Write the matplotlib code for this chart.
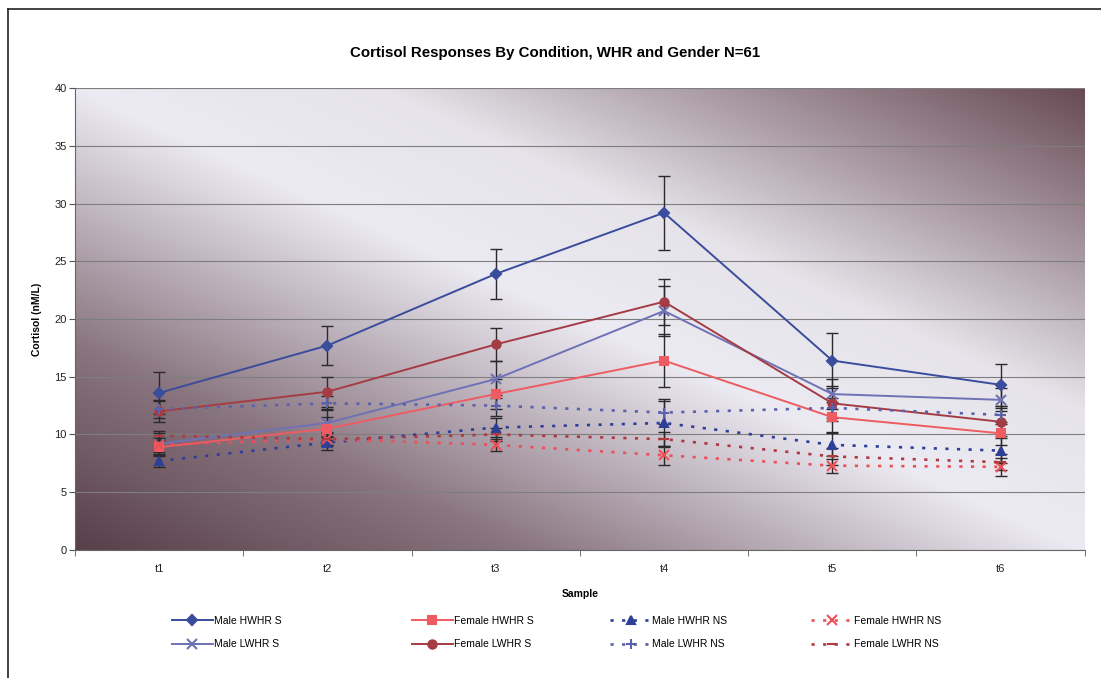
import numpy as np
import matplotlib
matplotlib.use("Agg")
import matplotlib.pyplot as plt
from matplotlib.lines import Line2D

plt.rcParams['font.family'] = ['Liberation Sans', 'DejaVu Sans']

# sample points and group means / standard errors (nM/L)
samples = ['t1', 't2', 't3', 't4', 't5', 't6']

male_hwhr_s = [13.6, 17.7, 23.9, 29.2, 16.4, 14.3]
male_hwhr_s_err = [1.8, 1.7, 2.2, 3.2, 2.4, 1.8]
male_lwhr_s = [9.2, 11.0, 14.8, 20.7, 13.5, 13.0]
male_lwhr_s_err = [0.9, 1.2, 1.6, 2.2, 1.3, 1.0]
female_hwhr_s = [8.9, 10.5, 13.5, 16.4, 11.5, 10.1]
female_hwhr_s_err = [0.8, 1.0, 1.3, 2.3, 1.3, 1.0]
female_lwhr_s = [12.0, 13.7, 17.8, 21.5, 12.7, 11.1]
female_lwhr_s_err = [0.9, 1.3, 1.4, 2.0, 1.5, 1.2]
male_hwhr_ns = [7.7, 9.3, 10.6, 11.0, 9.1, 8.6]
male_hwhr_ns_err = [0.5, 0.6, 0.8, 2.1, 1.0, 1.1]
male_lwhr_ns = [12.2, 12.7, 12.5, 11.9, 12.3, 11.7]
male_lwhr_ns_err = [0.8, 0.6, 0.9, 1.0, 0.9, 0.8]
female_hwhr_ns = [9.1, 9.6, 9.1, 8.2, 7.3, 7.2]
female_hwhr_ns_err = [0.6, 0.6, 0.5, 0.8, 0.6, 0.8]
female_lwhr_ns = [9.9, 9.6, 10.0, 9.6, 8.1, 7.6]
female_lwhr_ns_err = [0.4, 0.5, 0.6, 0.6, 0.7, 0.7]

DOT = (0, (1.2, 3.2))

# label, values, errors, color, marker, linestyle
series = [
    ('Male HWHR S', male_hwhr_s, male_hwhr_s_err, '#3a4c9c', 'D', '-'),
    ('Male LWHR S', male_lwhr_s, male_lwhr_s_err, '#6e72b4', 'x', '-'),
    ('Female HWHR S', female_hwhr_s, female_hwhr_s_err, '#ee5c62', 's', '-'),
    ('Female LWHR S', female_lwhr_s, female_lwhr_s_err, '#a53c44', 'o', '-'),
    ('Male HWHR NS', male_hwhr_ns, male_hwhr_ns_err, '#2e3f98', '^', DOT),
    ('Male LWHR NS', male_lwhr_ns, male_lwhr_ns_err, '#5a62ac', '+', DOT),
    ('Female HWHR NS', female_hwhr_ns, female_hwhr_ns_err, '#ec5058', 'x', DOT),
    ('Female LWHR NS', female_lwhr_ns, female_lwhr_ns_err, '#b03840', '_', DOT),
]

fig = plt.figure(figsize=(11.01, 6.78), dpi=100)
ax = fig.add_axes([0.068, 0.1888, 0.9173, 0.6814])

# diagonal two-tone fill of the plot area: dark lower-left and upper-right corners
gx, gy = np.meshgrid(np.linspace(0, 1, 400), np.linspace(1, 0, 300))
d = gx + gy
stops = [0.0, 0.45, 0.75, 1.0, 1.3, 1.6, 2.0]
rgb = np.array([
    [0x58, 0x40, 0x4a],
    [0x8a, 0x76, 0x80],
    [0xc0, 0xb6, 0xc0],
    [0xec, 0xea, 0xf2],
    [0xe6, 0xe4, 0xea],
    [0xae, 0xa0, 0xa8],
    [0x68, 0x4a, 0x54],
]) / 255.0
img = np.stack([np.interp(d, stops, rgb[:, c]) for c in range(3)], axis=-1)
ax.imshow(img, extent=[0, 1, 0, 1], transform=ax.transAxes, aspect='auto',
          zorder=0, interpolation='bilinear')

x = np.arange(len(samples))
for label, vals, errs, col, mk, ls in series:
    ax.errorbar(x, vals, yerr=errs, fmt='none', ecolor='#2a2a2a',
                elinewidth=1.0, capsize=4.5, capthick=1.0, zorder=2)
for label, vals, errs, col, mk, ls in series:
    lw = 1.4 if ls == '-' else 1.9
    ms = 6 if mk in ('s', 'o', '^') else 5
    if mk in ('x', '+', '_'):
        ms = 7
    ax.plot(x, vals, color=col, linestyle=ls, linewidth=lw, marker=mk,
            markersize=ms, markeredgewidth=1.5, label=label, zorder=3)

ax.set_xlim(-0.5, 5.5)
ax.set_ylim(0, 40)
ax.set_yticks(np.arange(0, 41, 5))
ax.set_xticks(x)
ax.set_xticklabels(samples)
ax.set_xticks(np.arange(-0.5, 5.6, 1), minor=True)
ax.tick_params(axis='x', which='major', length=0, labelsize=8, pad=10, colors='#222222')
ax.tick_params(axis='x', which='minor', length=4, direction='out', color='#555555')
ax.tick_params(axis='y', length=4, direction='out', labelsize=8, pad=2,
               colors='#222222', color='#555555')
ax.grid(axis='y', color='#7e7e7e', linewidth=0.8)
ax.set_axisbelow(True)
for side in ('top', 'right'):
    ax.spines[side].set_visible(False)
ax.spines['left'].set_color('#666666')
ax.spines['bottom'].set_color('#666666')

ax.set_ylabel('Cortisol (nM/L)', fontsize=7.5, fontweight='bold', labelpad=9)
ax.set_xlabel('Sample', fontsize=7.5, fontweight='bold', labelpad=11)
fig.text(0.504, 0.922, 'Cortisol Responses By Condition, WHR and Gender N=61',
         ha='center', va='center', fontsize=10.8, fontweight='bold')

# legend laid out as four columns under the axes
handles, labels = ax.get_legend_handles_labels()
col_x = [0.152, 0.370, 0.550, 0.733]
for i, cx in enumerate(col_x):
    fig.legend(handles[2 * i:2 * i + 2], labels[2 * i:2 * i + 2],
               loc='upper left', bbox_to_anchor=(cx, 0.098), frameon=False,
               fontsize=7.5, handlelength=4.0, handletextpad=0.1,
               labelspacing=1.3, borderaxespad=0)

# chart area border
fig.add_artist(Line2D([0.007, 1.0], [0.986, 0.986], color='#222222', linewidth=1.2))
fig.add_artist(Line2D([0.007, 0.007], [0.0, 0.986], color='#222222', linewidth=1.2))

fig.savefig('out.png', dpi=100)
